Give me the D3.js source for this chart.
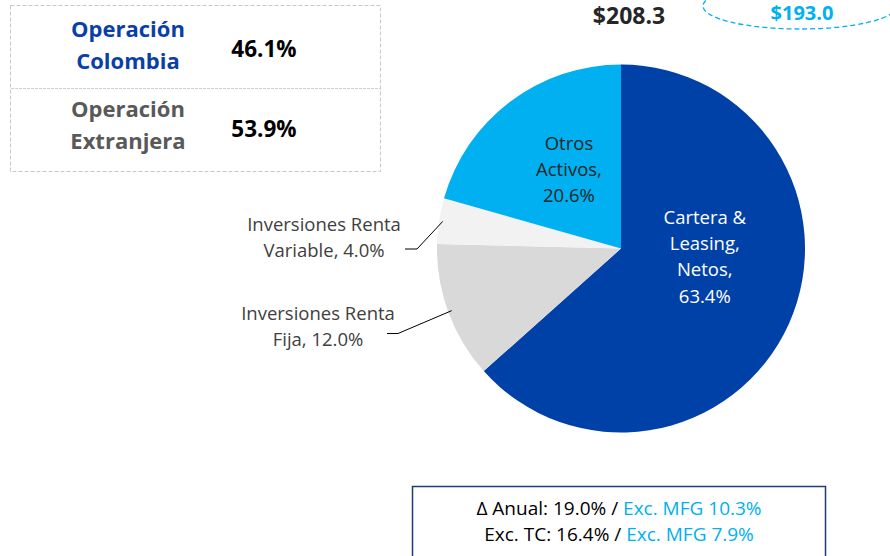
<!DOCTYPE html>
<html>
<head>
<meta charset="utf-8">
<script src="https://cdn.jsdelivr.net/npm/d3@7"></script>
<style>
  body { margin: 0; background: #fff; }
  svg { font-family: "Open Sans", "Noto Sans", sans-serif; }
</style>
</head>
<body>
<svg id="chart" width="890" height="556"></svg>
<script>
// datos del grafico
var categorias = ["Cartera & Leasing, Netos", "Inversiones Renta Fija", "Inversiones Renta Variable", "Otros Activos"];
var valores = [63.4, 12.0, 4.0, 20.6];
var colores = ["#0041A8", "#D9D9D9", "#F2F2F2", "#00B0F0"];
var operaciones = ["Operación Colombia", "Operación Extranjera"];
var participacion = [46.1, 53.9];
var totales = ["$208.3", "$193.0"];
var variacion = [["Δ Anual: 19.0% / ", "Exc. MFG 10.3%"], ["Exc. TC: 16.4% / ", "Exc. MFG 7.9%"]];

var svg = d3.select("#chart"),
    cx = 621, cy = 248.5, radio = 184;

var pie = d3.pie().sort(null).value(function(d) { return d; });
var arc = d3.arc().innerRadius(0).outerRadius(radio);
var arcos = pie(valores);

var g = svg.append("g").attr("transform", "translate(" + cx + "," + cy + ")");

g.selectAll("path")
  .data(arcos)
  .enter().append("path")
    .attr("d", arc)
    .attr("fill", function(d, i) { return colores[i]; });

/* etiquetas dentro */
function multilinea(sel, lineas, lh) {
  lineas.forEach(function(t, k) {
    sel.append("tspan").attr("x", 0).attr("y", (k - (lineas.length - 1) / 2) * lh).text(t);
  });
}

var ptC = d3.arc().innerRadius(0).outerRadius(radio * 0.95).centroid(arcos[0]);
var tC = g.append("text")
    .attr("transform", "translate(" + (ptC[0] + 4) + "," + (ptC[1] - 26) + ")")
    .attr("text-anchor", "middle").attr("dominant-baseline", "middle")
    .attr("fill", "#fff").style("font-size", "18.5px");
multilinea(tC, ["Cartera &", "Leasing,", "Netos,", d3.format(".1f")(valores[0]) + "%"], 26.3);

var ptO = d3.arc().innerRadius(0).outerRadius(radio * 0.92).centroid(arcos[3]);
var tO = g.append("text")
    .attr("transform", "translate(" + (ptO[0] - 1) + "," + (ptO[1] - 10) + ")")
    .attr("text-anchor", "middle").attr("dominant-baseline", "middle")
    .attr("fill", "#262626").style("font-size", "18.5px");
multilinea(tO, ["Otros", "Activos,", d3.format(".1f")(valores[3]) + "%"], 26);

/* etiquetas fuera con lineas guia */
var externas = [
  {i: 1, lx: -303, ly: 79.5, lineas: ["Inversiones Renta", "Fija, " + d3.format(".1f")(valores[1]) + "%"], hx: [-234, -223], yh: 85},
  {i: 2, lx: -297, ly: -9.5, lineas: ["Inversiones Renta", "Variable, " + d3.format(".1f")(valores[2]) + "%"], hx: [-216, -204], yh: 0.5}
];
var arcoBorde = d3.arc().innerRadius(radio * 0.98).outerRadius(radio * 0.98);
externas.forEach(function(e) {
  var p = arcoBorde.centroid(arcos[e.i]);
  g.append("polyline")
    .attr("points", [[e.hx[0], e.yh], [e.hx[1], e.yh], p].map(function(q) { return q.join(","); }).join(" "))
    .attr("fill", "none").attr("stroke", "#000").attr("stroke-width", 1);
  var t = g.append("text")
    .attr("transform", "translate(" + e.lx + "," + e.ly + ")")
    .attr("text-anchor", "middle").attr("dominant-baseline", "middle")
    .attr("fill", "#404040").style("font-size", "18.5px");
  multilinea(t, e.lineas, 26);
});

/* cuadro operaciones */
svg.append("rect")
    .attr("x", 10.5).attr("y", 5.5).attr("width", 370).attr("height", 166)
    .attr("fill", "none").attr("stroke", "#C8C8C8").attr("stroke-dasharray", "4,2");
svg.append("line")
    .attr("x1", 11).attr("x2", 380).attr("y1", 88.5).attr("y2", 88.5)
    .attr("stroke", "#D0D0D0").attr("stroke-dasharray", "3,1");

var colOp = ["#0B3FA8", "#595959"];
operaciones.forEach(function(op, k) {
  var y0 = 47 + k * 80;
  var palabras = op.split(" ");
  var t = svg.append("text")
      .attr("text-anchor", "middle").attr("font-weight", "bold")
      .attr("fill", colOp[k]).style("font-size", "22px");
  palabras.forEach(function(w, j) {
    t.append("tspan").attr("x", 128).attr("y", y0 - 16 + j * 32).attr("dominant-baseline", "middle").text(w);
  });
  svg.append("text")
      .attr("x", 264).attr("y", y0 + 4).attr("text-anchor", "middle")
      .attr("dominant-baseline", "middle").attr("font-weight", "bold")
      .attr("fill", "#000").style("font-size", "22.5px")
      .text(d3.format(".1f")(participacion[k]) + "%");
});

/* totales arriba */
svg.append("text")
    .attr("x", 629).attr("y", 18).attr("text-anchor", "middle").attr("dominant-baseline", "middle")
    .attr("font-weight", "bold").attr("fill", "#262626").style("font-size", "23px")
    .text(totales[0]);
svg.append("ellipse")
    .attr("cx", 800).attr("cy", 6).attr("rx", 97).attr("ry", 23)
    .attr("fill", "none").attr("stroke", "#00B0F0").attr("stroke-width", 1.3)
    .attr("stroke-dasharray", "5,3");
svg.append("text")
    .attr("x", 802).attr("y", 15).attr("text-anchor", "middle").attr("dominant-baseline", "middle")
    .attr("font-weight", "bold").attr("fill", "#00B0F0").style("font-size", "20px")
    .text(totales[1]);

/* cuadro variacion */
svg.append("rect")
    .attr("x", 412.5).attr("y", 486.5).attr("width", 413).attr("height", 80)
    .attr("fill", "#fff").attr("stroke", "#1F3A7A").attr("stroke-width", 1.5);
variacion.forEach(function(par, k) {
  var t = svg.append("text")
      .attr("x", 619).attr("y", 510 + k * 26).attr("text-anchor", "middle")
      .attr("dominant-baseline", "middle").style("font-size", "19px");
  t.append("tspan").attr("fill", "#000").text(par[0]);
  t.append("tspan").attr("fill", "#00B0F0").text(par[1]);
});
</script>
</body>
</html>
